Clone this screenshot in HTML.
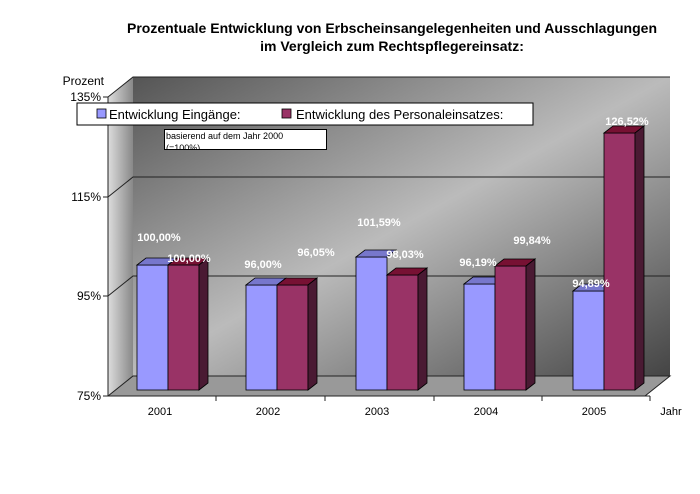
<!DOCTYPE html>
<html><head><meta charset="utf-8"><style>
body{margin:0;background:#fff;}
svg{display:block;font-family:"Liberation Sans",sans-serif;}
</style></head><body>
<svg width="700" height="494" viewBox="0 0 700 494">
<defs>
<linearGradient id="bw" x1="0" y1="0" x2="1" y2="1">
<stop offset="0" stop-color="#555"/><stop offset="0.5" stop-color="#bbb"/><stop offset="1" stop-color="#444"/>
</linearGradient>
<linearGradient id="lw" x1="0" y1="0" x2="1" y2="0">
<stop offset="0" stop-color="#ddd"/><stop offset="1" stop-color="#888"/>
</linearGradient>
</defs>
<text x="392" y="33" text-anchor="middle" font-size="14" font-weight="bold">Prozentuale Entwicklung von Erbscheinsangelegenheiten und Ausschlagungen</text>
<text x="392" y="51" text-anchor="middle" font-size="14" font-weight="bold">im Vergleich zum Rechtspflegereinsatz:</text>
<!-- back wall -->
<rect x="133" y="77" width="537" height="299" fill="url(#bw)"/>
<!-- left wall -->
<polygon points="108,97 133,77 133,376 108,396" fill="url(#lw)"/>
<!-- floor -->
<polygon points="108,396 133,376 670,376 645,396" fill="#999"/>
<g stroke="#222" stroke-width="1" fill="none">
<polyline points="108,97 133,77 670,77"/>
<polyline points="108,197 133,177 670,177"/>
<polyline points="108,296 133,276 670,276"/>
<polyline points="108,396 133,376 670,376 645,396"/>
<line x1="108" y1="97" x2="108" y2="396"/>
<line x1="108" y1="396" x2="650" y2="396"/>
<line x1="103" y1="97" x2="108" y2="97"/><line x1="103" y1="197" x2="108" y2="197"/>
<line x1="103" y1="296" x2="108" y2="296"/><line x1="103" y1="396" x2="108" y2="396"/>
<line x1="216" y1="396" x2="216" y2="401"/><line x1="325" y1="396" x2="325" y2="401"/>
<line x1="434" y1="396" x2="434" y2="401"/><line x1="542" y1="396" x2="542" y2="401"/>
<line x1="650" y1="396" x2="650" y2="401"/>
</g>
<g font-size="12" text-anchor="end">
<text x="104" y="85">Prozent</text>
<text x="101" y="101">135%</text><text x="101" y="201">115%</text>
<text x="101" y="300">95%</text><text x="101" y="400">75%</text>
</g>
<g font-size="11" text-anchor="middle">
<text x="160" y="415">2001</text><text x="268" y="415">2002</text><text x="377" y="415">2003</text>
<text x="486" y="415">2004</text><text x="594" y="415">2005</text>
<text x="671" y="415">Jahr</text>
</g>
<g stroke="#000" stroke-width="0.8">
<!-- bars: base y 390 -->
<!-- 2001 -->
<rect x="137" y="265" width="31" height="125" fill="#99f"/><polygon points="137,265 146,258 177,258 168,265" fill="#77c"/>
<rect x="168" y="265" width="31" height="125" fill="#936"/><polygon points="168,265 177,258 208,258 199,265" fill="#713"/><polygon points="199,265 208,258 208,383 199,390" fill="#4a1a33"/>
<!-- 2002 -->
<rect x="246" y="285" width="31" height="105" fill="#99f"/><polygon points="246,285 255,278 286,278 277,285" fill="#77c"/>
<rect x="277" y="285" width="31" height="105" fill="#936"/><polygon points="277,285 286,278 317,278 308,285" fill="#713"/><polygon points="308,285 317,278 317,383 308,390" fill="#4a1a33"/>
<!-- 2003 -->
<rect x="356" y="257" width="31" height="133" fill="#99f"/><polygon points="356,257 365,250 396,250 387,257" fill="#77c"/>
<rect x="387" y="275" width="31" height="115" fill="#936"/><polygon points="387,275 396,268 427,268 418,275" fill="#713"/><polygon points="418,275 427,268 427,383 418,390" fill="#4a1a33"/>
<!-- 2004 -->
<rect x="464" y="284" width="31" height="106" fill="#99f"/><polygon points="464,284 473,277 504,277 495,284" fill="#77c"/>
<rect x="495" y="266" width="31" height="124" fill="#936"/><polygon points="495,266 504,259 535,259 526,266" fill="#713"/><polygon points="526,266 535,259 535,383 526,390" fill="#4a1a33"/>
<!-- 2005 -->
<rect x="573" y="291" width="31" height="99" fill="#99f"/><polygon points="573,291 582,284 613,284 604,291" fill="#77c"/>
<rect x="604" y="133" width="31" height="257" fill="#936"/><polygon points="604,133 613,126 644,126 635,133" fill="#713"/><polygon points="635,133 644,126 644,383 635,390" fill="#4a1a33"/>
</g>
<g font-size="11" font-weight="bold" fill="#fff" text-anchor="middle">
<text x="159" y="241">100,00%</text><text x="189" y="262">100,00%</text>
<text x="263" y="268">96,00%</text><text x="316" y="256">96,05%</text>
<text x="379" y="226">101,59%</text><text x="405" y="258">98,03%</text>
<text x="478" y="266">96,19%</text><text x="532" y="244">99,84%</text>
<text x="591" y="287">94,89%</text><text x="627" y="125">126,52%</text>
</g>
<!-- legend -->
<rect x="77" y="103" width="456" height="22" fill="#fff" stroke="#000"/>
<rect x="97" y="109" width="9" height="9" fill="#99f" stroke="#000" stroke-width="0.8"/>
<text x="109" y="119" font-size="13">Entwicklung Eingänge:</text>
<rect x="282" y="109" width="9" height="9" fill="#936" stroke="#000" stroke-width="0.8"/>
<text x="296" y="119" font-size="13">Entwicklung des Personaleinsatzes:</text>
<!-- note -->
<svg x="164" y="129" width="164" height="21" overflow="hidden">
<rect x="0.5" y="0.5" width="162" height="20" fill="#fff" stroke="#000"/>
<text x="2" y="10" font-size="9">basierend auf dem Jahr 2000</text>
<text x="2" y="22" font-size="9">(=100%)</text>
</svg>
</svg>
</body></html>
